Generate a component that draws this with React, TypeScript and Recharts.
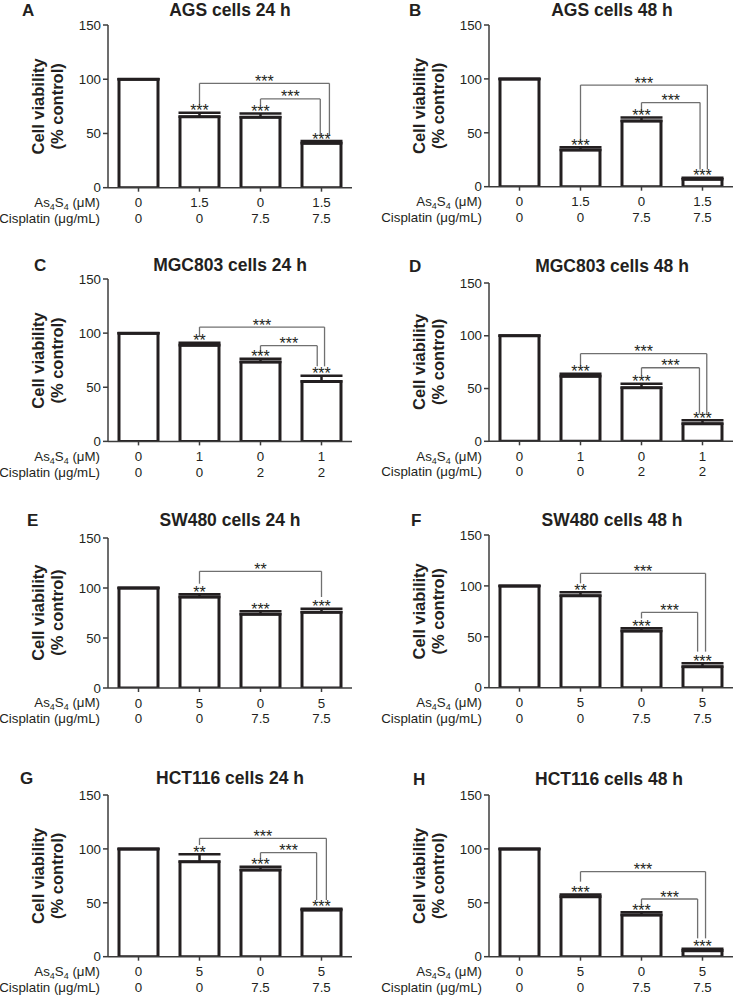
import React from 'react';
import { BarChart, Bar, XAxis, YAxis, ErrorBar, ReferenceLine, ReferenceDot } from 'recharts';

const panelLetters = ['A', 'B', 'C', 'D', 'E', 'F', 'G', 'H'];
const panelTitles = [
  'AGS cells 24 h', 'AGS cells 48 h',
  'MGC803 cells 24 h', 'MGC803 cells 48 h',
  'SW480 cells 24 h', 'SW480 cells 48 h',
  'HCT116 cells 24 h', 'HCT116 cells 48 h',
];
const yTicks = [0, 50, 100, 150];
const as4s4Doses = [
  ['0', '1.5', '0', '1.5'], ['0', '1.5', '0', '1.5'],
  ['0', '1', '0', '1'], ['0', '1', '0', '1'],
  ['0', '5', '0', '5'], ['0', '5', '0', '5'],
  ['0', '5', '0', '5'], ['0', '5', '0', '5'],
];
const cisplatinDoses = [
  ['0', '0', '7.5', '7.5'], ['0', '0', '7.5', '7.5'],
  ['0', '0', '2', '2'], ['0', '0', '2', '2'],
  ['0', '0', '7.5', '7.5'], ['0', '0', '7.5', '7.5'],
  ['0', '0', '7.5', '7.5'], ['0', '0', '7.5', '7.5'],
];
const viability = [
  [100, 65.5, 65, 41],
  [100, 34, 61, 6.8],
  [100, 88.7, 73.3, 55.4],
  [100, 61.6, 50.8, 16.7],
  [100, 91, 73.7, 75.7],
  [100, 90.4, 55.7, 20.6],
  [100, 88.1, 80.4, 43.3],
  [100, 55.7, 38.7, 5.6],
];
const sem = [
  [0, 3.5, 3.5, 2],
  [0, 2.5, 3.3, 1.5],
  [0, 2.5, 3, 5.3],
  [0, 2.5, 3.8, 3.2],
  [0, 2.7, 3, 3.6],
  [0, 3.3, 2.6, 3.3],
  [0, 6.9, 3.1, 1.2],
  [0, 2, 2.5, 1.8],
];
const barStars = [
  ['', '***', '***', '***'],
  ['', '***', '***', '***'],
  ['', '**', '***', '***'],
  ['', '***', '***', '***'],
  ['', '**', '***', '***'],
  ['', '**', '***', '***'],
  ['', '**', '***', '***'],
  ['', '***', '***', '***'],
];
// brackets: start category position, end position, top value, left end value, right end value
const bracketFrom = [[2, 3], [2, 3], [2, 3], [2, 3], [2], [2, 3], [2, 3], [2, 3]];
const bracketTo = [[4.13, 3.98], [4.08, 3.96], [4.05, 3.93], [4.07, 3.95], [4], [4.05, 3.92], [4.08, 3.92], [4.05, 3.92]];
const bracketTop = [[96.2, 81.8], [94.3, 78], [105.6, 88.4], [83, 69.7], [116.7], [112.3, 74], [109.8, 96.5], [78.9, 53.5]];
const bracketLeftEnd = [[76, 76], [42.5, 70], [96.4, 81.6], [71, 62.5], [104.3], [102.5, 68], [103.6, 91.2], [69.6, 48]];
const bracketRightEnd = [[48.6, 48.6], [16, 16], [69.3, 69.3], [26.2, 26.2], [91], [35.4, 35.4], [52.6, 52.6], [17, 17]];
const bracketStars = [['***', '***'], ['***', '***'], ['***', '***'], ['***', '***'], ['**'], ['***', '***'], ['***', '***'], ['***', '***']];

// layout (pixel geometry, not data)
const layout = [
  { col: 0, top: 25, bottom: 187.7, titleX: 230, titleY: 10, letterX: 22, letterY: 10 },
  { col: 1, top: 25, bottom: 186.7, titleX: 612, titleY: 10, letterX: 409, letterY: 10 },
  { col: 0, top: 279.3, bottom: 441.7, titleX: 230, titleY: 265, letterX: 34, letterY: 265 },
  { col: 1, top: 282.7, bottom: 441, titleX: 612, titleY: 266, letterX: 409, letterY: 266 },
  { col: 0, top: 537.7, bottom: 687.7, titleX: 230, titleY: 520, letterX: 27, letterY: 520 },
  { col: 1, top: 535, bottom: 687.7, titleX: 612, titleY: 520, letterX: 411, letterY: 520 },
  { col: 0, top: 795, bottom: 956.7, titleX: 230, titleY: 778, letterX: 20, letterY: 778 },
  { col: 1, top: 795, bottom: 956.7, titleX: 609, titleY: 779, letterX: 413, letterY: 779 },
];

const FONT = '"Liberation Sans", Arial, Helvetica, sans-serif';
const INK = '#231f20';
const AXIS = '#3c3c3c';
const BRACKET = '#707070';
const PLOT_W = 244;
const MARGIN_TOP = 12;
const XAXIS_H = 44;

const starLabel = (text: string, dy: number) => (props: any) => {
  const vb = props.viewBox || {};
  const x = (vb.x || 0) + (vb.width || 0) / 2;
  const y = (vb.y || 0) + (vb.height || 0) / 2;
  return (
    <text x={x} y={y + dy} textAnchor="middle" fontSize={16} fontFamily={FONT} fill={INK}>
      {text}
    </text>
  );
};

function Panel({ i }: { i: number }) {
  const L = layout[i];
  const chartLeft = L.col === 0 ? 0 : 367;
  const yAxisW = L.col === 0 ? 108 : 122;
  const plotH = L.bottom - L.top;
  const chartW = yAxisW + PLOT_W + 2;
  const chartH = MARGIN_TOP + plotH + XAXIS_H;
  const data = viability[i].map((v, j) => ({
    k: `c${j}`,
    pos: j + 1,
    v,
    e: [0, sem[i][j]],
  }));

  const renderTick = (props: any) => {
    const { x, y, index } = props;
    return (
      <g>
        <text x={x} y={y + 15.6} textAnchor="middle" fontSize={13.3} fontFamily={FONT} fill={INK}>
          {as4s4Doses[i][index]}
        </text>
        <text x={x} y={y + 31.2} textAnchor="middle" fontSize={13.3} fontFamily={FONT} fill={INK}>
          {cisplatinDoses[i][index]}
        </text>
      </g>
    );
  };

  return (
    <div style={{ position: 'absolute', left: chartLeft, top: L.top - MARGIN_TOP }}>
      <BarChart
        width={chartW}
        height={chartH}
        data={data}
        margin={{ top: MARGIN_TOP, right: 2, bottom: 0, left: 0 }}
      >
        <XAxis
          dataKey="k"
          type="category"
          interval={0}
          tickSize={4}
          tickMargin={0}
          height={XAXIS_H}
          axisLine={{ stroke: AXIS, strokeWidth: 1.5 }}
          tickLine={{ stroke: AXIS, strokeWidth: 1.5 }}
          tick={renderTick}
        />
        <XAxis xAxisId="n" type="number" dataKey="pos" domain={[0.5, 4.5]} allowDataOverflow hide />
        <YAxis
          type="number"
          domain={[0, 150]}
          ticks={yTicks}
          interval={0}
          allowDataOverflow
          width={yAxisW}
          tickSize={5}
          tickMargin={2}
          axisLine={{ stroke: AXIS, strokeWidth: 1.5 }}
          tickLine={{ stroke: AXIS, strokeWidth: 1.5 }}
          tick={{ fontSize: 13.3, fill: INK, fontFamily: FONT }}
        />
        <Bar dataKey="v" fill="#ffffff" stroke={INK} strokeWidth={3} barSize={39} isAnimationActive={false}>
          <ErrorBar dataKey="e" direction="y" width={21} stroke={INK} strokeWidth={2.5} isAnimationActive={false} />
        </Bar>
        {bracketFrom[i].map((x1, b) => {
          const x2 = bracketTo[i][b];
          const top = bracketTop[i][b];
          return (
            <React.Fragment key={`br${b}`}>
              <ReferenceLine xAxisId="n" segment={[{ x: x1, y: bracketLeftEnd[i][b] }, { x: x1, y: top }]} stroke={BRACKET} strokeWidth={1.3} ifOverflow="visible" />
              <ReferenceLine xAxisId="n" segment={[{ x: x1, y: top }, { x: x2, y: top }]} stroke={BRACKET} strokeWidth={1.3} ifOverflow="visible" />
              <ReferenceLine xAxisId="n" segment={[{ x: x2, y: top }, { x: x2, y: bracketRightEnd[i][b] }]} stroke={BRACKET} strokeWidth={1.3} ifOverflow="visible" />
              <ReferenceDot xAxisId="n" x={(x1 + x2) / 2} y={top} r={0} fill="none" stroke="none" ifOverflow="visible" label={starLabel(bracketStars[i][b], 3.5)} />
            </React.Fragment>
          );
        })}
        {data.map((d, j) =>
          barStars[i][j] ? (
            <ReferenceDot
              key={`st${j}`}
              x={d.k}
              y={d.v + sem[i][j]}
              r={0}
              fill="none"
              stroke="none"
              ifOverflow="visible"
              label={starLabel(barStars[i][j], 3.5)}
            />
          ) : null
        )}
      </BarChart>
    </div>
  );
}

function Decorations() {
  return (
    <svg width={734} height={1001} style={{ position: 'absolute', left: 0, top: 0, pointerEvents: 'none' }}>
      {layout.map((L, i) => {
        const yl1 = L.col === 0 ? 38 : 419;
        const yl2 = L.col === 0 ? 57 : 438;
        const rowRight = L.col === 0 ? 100 : 482;
        const cy = (L.top + L.bottom) / 2;
        return (
          <g key={i} fontFamily={FONT} fill={INK}>
            <text x={L.letterX} y={L.letterY} fontSize={17} fontWeight="bold" dominantBaseline="central">
              {panelLetters[i]}
            </text>
            <text x={L.titleX} y={L.titleY} fontSize={17.5} fontWeight="bold" textAnchor="middle" dominantBaseline="central">
              {panelTitles[i]}
            </text>
            <text transform={`translate(${yl1},${cy}) rotate(-90)`} fontSize={16.5} fontWeight="bold" textAnchor="middle" dominantBaseline="central">
              Cell viability
            </text>
            <text transform={`translate(${yl2},${cy}) rotate(-90)`} fontSize={16.5} fontWeight="bold" textAnchor="middle" dominantBaseline="central">
              (% control)
            </text>
            <text x={rowRight} y={L.bottom + 19.6} fontSize={13.3} textAnchor="end">
              As<tspan fontSize={9} dy={3}>4</tspan>
              <tspan dy={-3}>S</tspan>
              <tspan fontSize={9} dy={3}>4</tspan>
              <tspan dy={-3}> (μM)</tspan>
            </text>
            <text x={rowRight} y={L.bottom + 35.2} fontSize={13.3} textAnchor="end">
              Cisplatin (μg/mL)
            </text>
          </g>
        );
      })}
    </svg>
  );
}

export default function App() {
  return (
    <div style={{ position: 'absolute', left: 0, top: 0, width: 734, height: 1001, background: '#fff', overflow: 'hidden' }}>
      {layout.map((_, i) => (
        <Panel key={i} i={i} />
      ))}
      <Decorations />
    </div>
  );
}
